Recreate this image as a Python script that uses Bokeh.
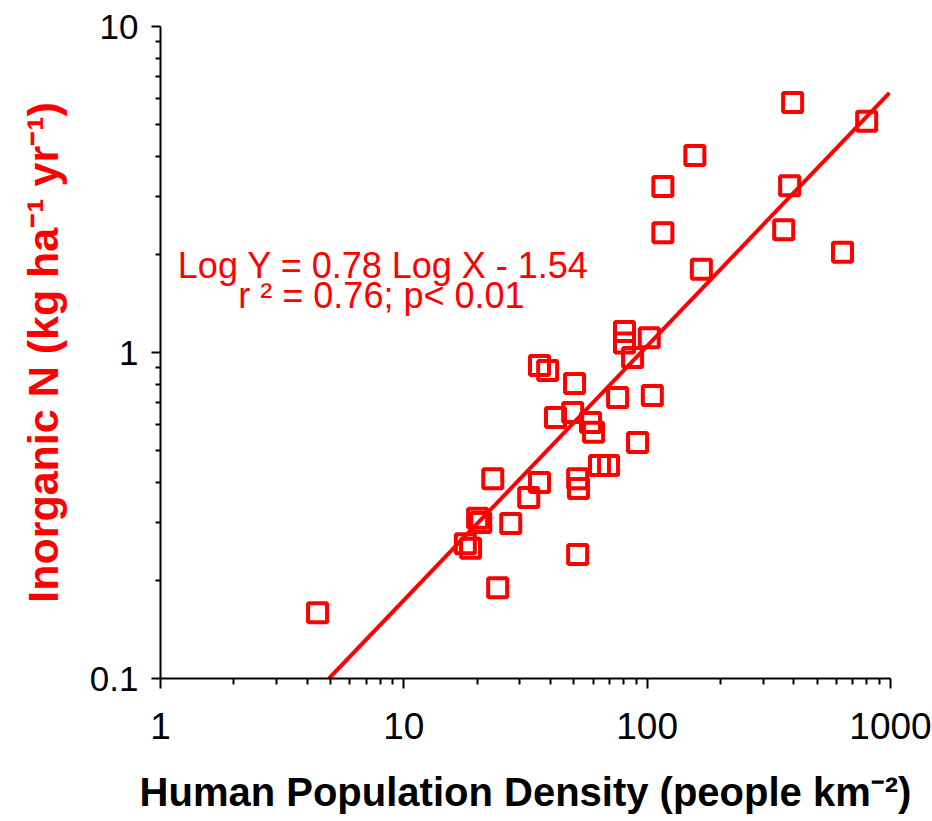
import math

from bokeh.plotting import figure
from bokeh.models import Range1d, FixedTicker, Label, ColumnDataSource
from bokeh.embed import file_html
from bokeh.resources import INLINE

# Human population density (people km^-2) and inorganic N export (kg ha^-1 yr^-1)
density = [4.42, 17.9, 18.8, 20.1, 20.7, 23.2, 24.3, 27.5, 32.6, 36.1,
           36.1, 39.0, 42.0, 49.4, 50.3, 51.8, 52.2, 51.8, 58.5, 60.2,
           63.7, 69.4, 75.6, 80.7, 80.7, 87.1, 102, 105, 91.3, 116,
           116, 157, 167, 364, 385, 396, 635, 798]
inorganic_n = [0.159, 0.259, 0.251, 0.310, 0.301, 0.410, 0.190, 0.299, 0.359, 0.399,
               0.912, 0.881, 0.632, 0.655, 0.804, 0.410, 0.383, 0.240, 0.610, 0.569,
               0.450, 0.450, 0.728, 1.16, 1.07, 0.965, 1.11, 0.738, 0.530, 3.23,
               2.33, 4.02, 1.80, 2.38, 3.25, 5.85, 2.03, 5.12]

# Log-log regression: Log Y = 0.78 Log X - 1.54
slope = 0.78
intercept = -1.54
fit_x_max = 990

x_ticks = [1, 10, 100, 1000]
x_tick_labels = ["1", "10", "100", "1000"]
y_ticks = [0.1, 1, 10]
y_tick_labels = ["0.1", "1", "10"]

RED = "#FF0000"
FONT = "Liberation Sans"

p = figure(width=932, height=821, x_axis_type="log", y_axis_type="log",
           x_range=Range1d(1, 1000), y_range=Range1d(0.1, 10),
           output_backend="svg", toolbar_location=None,
           min_border_left=160, min_border_right=42,
           min_border_top=26, min_border_bottom=143)
p.outline_line_color = None
p.xgrid.visible = False
p.ygrid.visible = False
p.background_fill_color = "white"
p.border_fill_color = "white"

# regression line, from where it enters the frame up to fit_x_max
x_start = 10 ** ((-1 - intercept) / slope)
fit_x = [x_start, fit_x_max]
fit_y = [10 ** (slope * math.log10(v) + intercept) for v in fit_x]
p.line(fit_x, fit_y, line_color=RED, line_width=4)

src = ColumnDataSource(dict(x=density, y=inorganic_n))
p.scatter("x", "y", source=src, marker="square", size=19,
          line_color=RED, line_width=4, fill_alpha=0)

# axes
minor_x = [m * d for d in (1, 10, 100) for m in range(2, 10)]
minor_y = [m * d for d in (0.1, 1) for m in range(2, 10)]
p.xaxis.ticker = FixedTicker(ticks=x_ticks, minor_ticks=minor_x)
p.yaxis.ticker = FixedTicker(ticks=y_ticks, minor_ticks=minor_y)
p.xaxis.major_label_overrides = dict(zip(x_ticks, x_tick_labels))
p.yaxis.major_label_overrides = dict(zip(y_ticks, y_tick_labels))

for ax in (p.xaxis[0], p.yaxis[0]):
    ax.axis_line_color = "black"
    ax.axis_line_width = 2
    ax.major_tick_line_color = "black"
    ax.major_tick_line_width = 2
    ax.minor_tick_line_color = "black"
    ax.minor_tick_line_width = 2
    ax.major_tick_in = 0
    ax.minor_tick_in = 0
    ax.major_label_text_font = FONT
    ax.major_label_text_color = "black"
    ax.axis_label_text_font = FONT
    ax.axis_label_text_font_style = "bold"

p.xaxis.major_tick_out = 10
p.xaxis.minor_tick_out = 6
p.yaxis.major_tick_out = 9
p.yaxis.minor_tick_out = 5

p.xaxis.major_label_text_font_size = "37px"
p.yaxis.major_label_text_font_size = "35px"
p.xaxis.major_label_standoff = 24
p.yaxis.major_label_standoff = 13

p.xaxis.axis_label = "Human Population Density (people km\u207b\u00b2)"
p.xaxis.axis_label_text_font_size = "40px"
p.xaxis.axis_label_text_color = "black"
p.xaxis.axis_label_standoff = 28

p.yaxis.axis_label = "Inorganic N (kg ha\u207b\u00b9 yr\u207b\u00b9)"
p.yaxis.axis_label_text_font_size = "43px"
p.yaxis.axis_label_text_color = RED
p.yaxis.axis_label_standoff = 20

# regression equation
p.add_layout(Label(x=8.25, y=1.85, text="Log Y = 0.78 Log X - 1.54",
                   text_font=FONT, text_font_size="36px", text_color=RED,
                   text_align="center", text_baseline="alphabetic"))
p.add_layout(Label(x=8.09, y=1.50, text="r \u00b2 = 0.76; p< 0.01",
                   text_font=FONT, text_font_size="36px", text_color=RED,
                   text_align="center", text_baseline="alphabetic"))

open("out.html", "w").write(file_html(p, INLINE))
